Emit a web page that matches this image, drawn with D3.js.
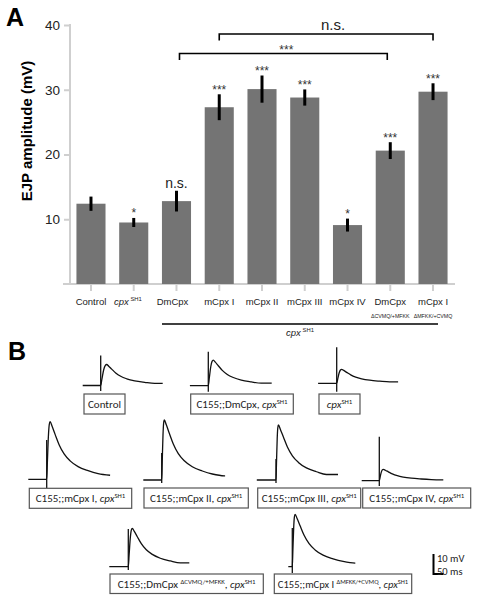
<!DOCTYPE html>
<html><head><meta charset="utf-8">
<script src="https://cdn.jsdelivr.net/npm/d3@7"></script>
<style>body{margin:0;background:#fff} svg{display:block}</style>
</head><body><svg id="c" width="477" height="600"></svg>
<script>
// ---------- Panel A data ----------
const categories = ["Control","cpxSH1","DmCpx","mCpx I","mCpx II","mCpx III","mCpx IV","DmCpx dCVMQ","mCpx I dMFKK"];
const means  = [12.4, 9.5, 12.8, 27.3, 30.1, 28.8, 9.1, 20.6, 29.7];
const errors = [1.1, 0.7, 1.6, 2.0, 2.1, 1.25, 1.0, 1.3, 1.3];
const signif = ["", "*", "n.s.", "***", "***", "***", "*", "***", "***"];
const yTicks = [10, 20, 30, 40];
const bracketFrom  = [2, 3];
const bracketTo    = [7, 8];
const bracketLabel = ["***", "n.s."];
const xLabelLines = [
  [[{t:"Control"}]],
  [[{t:"cpx",it:1},{t:" SH1",sup:1}]],
  [[{t:"DmCpx"}]],
  [[{t:"mCpx I"}]],
  [[{t:"mCpx II"}]],
  [[{t:"mCpx III"}]],
  [[{t:"mCpx IV"}]],
  [[{t:"DmCpx"}],[{t:"\u0394CVMQ/+MFKK",small:1}]],
  [[{t:"mCpx I"}],[{t:"\u0394MFKK/+CVMQ",small:1}]]
];

// ---------- Panel B data ----------
const traceLabels = [
  [{t:"Control"}],
  [{t:"C155;;DmCpx, "},{t:"cpx",it:1},{t:"SH1",sup:1}],
  [{t:"cpx",it:1},{t:"SH1",sup:1}],
  [{t:"C155;;mCpx I, "},{t:"cpx",it:1},{t:"SH1",sup:1}],
  [{t:"C155;;mCpx II, "},{t:"cpx",it:1},{t:"SH1",sup:1}],
  [{t:"C155;;mCpx III, "},{t:"cpx",it:1},{t:"SH1",sup:1}],
  [{t:"C155;;mCpx IV, "},{t:"cpx",it:1},{t:"SH1",sup:1}],
  [{t:"C155;;DmCpx "},{t:"\u0394CVMQ/+MFKK",sup:1},{t:", "},{t:"cpx",it:1},{t:"SH1",sup:1}],
  [{t:"C155;;mCpx I "},{t:"\u0394MFKK/+CVMQ",sup:1},{t:", "},{t:"cpx",it:1},{t:"SH1",sup:1}]
];
const traceAmp     = [10.5, 12.8, 7.0, 28.8, 30.0, 27.5, 5.7, 19.2, 26.2];   // mV
const artifactUp   = [15, 17, 18, 19.6, 13.5, 10.5, 22, 18.8, 19.4];         // mV
const artifactDown = [2.8, 3.0, 4.2, 4.5, 1.5, 1.5, 2.7, 1.7, 3.2];          // mV
const timeToPeak   = [30, 25, 25, 17, 13, 12, 20, 20, 14];                   // ms
const preMs        = [90, 92, 93, 92, 92, 96, 88, 95, 20];
const postMs       = [310, 317, 307, 317, 317, 310, 320, 305, 315];
const riseShape  = [[0,0],[0.2,0.3],[0.5,0.75],[0.75,0.95],[1,1]];
const decayShape = [[0,1],[10,0.92],[25,0.78],[45,0.6],[70,0.44],[100,0.32],[140,0.22],[190,0.15],[240,0.1],[300,0.07]];
const scaleBarMV = 10, scaleBarMs = 50;

// ---------- layout ----------
const svg = d3.select("#c");
const AF = "'Liberation Sans', Arial, sans-serif";
const BF = "Carlito, Lato, 'Open Sans', sans-serif";

const x = d3.scaleBand().domain(categories).range([69.6, 454.4]).paddingInner(0.32).paddingOuter(0.16);
const y = d3.scaleLinear().domain([0, 40]).range([284, 25]);
const cx = i => x(categories[i]) + x.bandwidth()/2;

svg.append("text").attr("x", 6).attr("y", 26).attr("font-family", AF).attr("font-weight", "bold")
  .attr("font-size", 25).text("A");
svg.append("text").attr("x", 8).attr("y", 360).attr("font-family", AF).attr("font-weight", "bold")
  .attr("font-size", 25).text("B");

// axes
const yAxis = svg.append("g").attr("transform", "translate(70,0)")
  .call(d3.axisLeft(y).tickValues(yTicks).tickSize(6).tickFormat(d3.format("d")));
yAxis.select(".domain").remove();
yAxis.selectAll(".tick line").attr("stroke", "#cfcfcf").attr("stroke-width", 2);
yAxis.selectAll(".tick text").attr("font-family", AF).attr("font-size", 13.5).attr("fill", "#222").attr("dx", -1);
svg.append("line").attr("x1", 70).attr("x2", 70).attr("y1", y(40)-1).attr("y2", y(0))
  .attr("stroke", "#cfcfcf").attr("stroke-width", 2);

const xAxis = svg.append("g").attr("transform", `translate(0,${y(0)})`)
  .call(d3.axisBottom(x).tickSize(7).tickFormat(""));
xAxis.select(".domain").remove();
xAxis.selectAll(".tick line").attr("stroke", "#cfcfcf").attr("stroke-width", 2);
svg.append("line").attr("x1", 63).attr("x2", 455).attr("y1", y(0)).attr("y2", y(0))
  .attr("stroke", "#cfcfcf").attr("stroke-width", 2);

svg.append("text").attr("transform", `translate(32,${131}) rotate(-90)`).attr("text-anchor", "middle")
  .attr("font-family", AF).attr("font-weight", "bold").attr("font-size", 15).text("EJP amplitude (mV)");

// bars
svg.selectAll("rect.bar").data(means).enter().append("rect").attr("class", "bar")
  .attr("x", (d,i) => x(categories[i])).attr("width", x.bandwidth())
  .attr("y", d => y(d)).attr("height", d => y(0) - y(d)).attr("fill", "#747474");
svg.selectAll("line.err").data(means).enter().append("line").attr("class", "err")
  .attr("x1", (d,i) => cx(i)).attr("x2", (d,i) => cx(i))
  .attr("y1", (d,i) => y(d + errors[i])).attr("y2", (d,i) => y(d - errors[i]))
  .attr("stroke", "#000").attr("stroke-width", 3);
svg.selectAll("text.sig").data(signif).enter().append("text").attr("class", "sig")
  .attr("x", (d,i) => cx(i)).attr("y", (d,i) => y(means[i] + errors[i]) - (d === "n.s." ? 3 : 0.5))
  .attr("text-anchor", "middle").attr("font-family", AF)
  .attr("font-size", d => d === "n.s." ? 14 : 12).attr("fill", d => d === "n.s." ? "#222" : "#333").text(d => d);

// brackets
const bY = [53.5, 34];
bracketFrom.forEach((f, k) => {
  const x1 = cx(f) + (k === 0 ? 3 : 0), x2 = cx(bracketTo[k]) - (k === 0 ? 3 : 0);
  svg.append("path").attr("d", `M${x1},${bY[k]+6.5}V${bY[k]}H${x2}V${bY[k]+6.5}`)
    .attr("fill", "none").attr("stroke", "#000").attr("stroke-width", 1.6);
  svg.append("text").attr("x", (x1+x2)/2 + (k === 0 ? 3 : 7)).attr("y", k === 0 ? bY[k] : bY[k] - 4.5)
    .attr("text-anchor", "middle").attr("font-family", AF)
    .attr("font-size", k === 0 ? 12 : 15).attr("fill", k === 0 ? "#333" : "#222").text(bracketLabel[k]);
});

// x labels
function rich(sel, segs, base) {
  let shifted = 0;
  segs.forEach(s => {
    const ts = sel.append("tspan").text(s.t);
    if (s.it) ts.attr("font-style", "italic");
    let dy = 0;
    if (s.sup) { ts.attr("font-size", base*0.62); dy = -base*0.38 - shifted; shifted = -base*0.38; }
    else { dy = -shifted; shifted = 0; }
    if (dy) ts.attr("dy", dy);
  });
}
xLabelLines.forEach((lines, i) => {
  lines.forEach((segs, li) => {
    const small = segs[0].small;
    const fs = small ? 5.3 : 9.5;
    const t = svg.append("text").attr("y", li === 0 ? 305 : 317.5)
      .attr("font-family", AF).attr("font-size", fs).attr("fill", "#222");
    if (i === 1) t.attr("x", 114).attr("text-anchor", "start");
    else t.attr("x", cx(i) - (i === 2 ? 4 : 0)).attr("text-anchor", "middle");
    rich(t, segs, fs);
  });
});
svg.append("line").attr("x1", 162).attr("x2", 438).attr("y1", 324).attr("y2", 324)
  .attr("stroke", "#000").attr("stroke-width", 1.5);
{
  const t = svg.append("text").attr("x", 300).attr("y", 335.5).attr("text-anchor", "middle")
    .attr("font-family", AF).attr("font-size", 9.5).attr("fill", "#222");
  rich(t, [{t:"cpx",it:1},{t:" SH1",sup:1}], 9.5);
}

// ---------- Panel B ----------
const tx = d3.scaleLinear().domain([0, scaleBarMs]).range([0, 10]);
const ty = d3.scaleLinear().domain([0, scaleBarMV]).range([0, -20]);
const traceOrigin = [[100.7,385.5],[208.3,385.7],[336.7,383.3],[46.7,479.3],[161.7,480],[276,480],[379.3,480.7],[128.3,566.7],[292.3,566.7]];
const boxes = [[84,394,41,20],[190.7,394,102.6,20],[319,394,41,20],[29.3,488.3,102.4,20],[144,488,104.3,20],
               [257.7,488,103,20],[362.7,488,108,20],[110,574,153.3,19.5],[274.3,574,137.4,19.5]];
const line = d3.line().x(d => tx(d[0])).y(d => ty(d[1])).curve(d3.curveMonotoneX);

traceAmp.forEach((amp, i) => {
  const g = svg.append("g").attr("transform", `translate(${traceOrigin[i][0]},${traceOrigin[i][1]})`);
  const ttp = timeToPeak[i];
  const pts = [[-preMs[i], 0], [0, 0]];
  riseShape.slice(1).forEach(r => pts.push([r[0]*ttp, r[1]*amp]));
  decayShape.slice(1).forEach(dd => { if (ttp + dd[0] <= postMs[i]) pts.push([ttp + dd[0], dd[1]*amp]); });
  const last = pts[pts.length-1];
  if (last[0] < postMs[i]) pts.push([postMs[i], last[1]]);
  g.append("path").attr("d", line(pts)).attr("fill", "none").attr("stroke", "#111").attr("stroke-width", 1.3);
  g.append("line").attr("x1", tx(0)).attr("x2", tx(0)).attr("y1", ty(-artifactDown[i])).attr("y2", ty(artifactUp[i]))
    .attr("stroke", "#111").attr("stroke-width", 1.3);

  const b = boxes[i];
  svg.append("rect").attr("x", b[0]).attr("y", b[1]).attr("width", b[2]).attr("height", b[3])
    .attr("fill", "#fff").attr("stroke", "#555").attr("stroke-width", 1.2);
  let fs = 11;
  const t = svg.append("text").attr("x", b[0] + b[2]/2).attr("y", b[1] + b[3]/2 + 4)
    .attr("text-anchor", "middle").attr("font-family", BF).attr("font-size", fs).attr("fill", "#222");
  rich(t, traceLabels[i], fs);
  const w = t.node().getComputedTextLength();
  if (w > b[2] - 7) {
    fs = fs * (b[2] - 7) / w;
    t.remove();
    const t2 = svg.append("text").attr("x", b[0] + b[2]/2).attr("y", b[1] + b[3]/2 + 4)
      .attr("text-anchor", "middle").attr("font-family", BF).attr("font-size", fs).attr("fill", "#222");
    rich(t2, traceLabels[i], fs);
  }
});

// scale bar
const sb = svg.append("g").attr("transform", "translate(433.5,574)");
sb.append("path").attr("d", `M${tx(0)},${ty(scaleBarMV)}V${ty(0)}H${tx(scaleBarMs)}`)
  .attr("fill", "none").attr("stroke", "#000").attr("stroke-width", 2);
sb.append("text").attr("x", 3.5).attr("y", -12).attr("font-family", BF).attr("font-size", 10.5).attr("fill", "#222").text(scaleBarMV + " mV");
sb.append("text").attr("x", 3.5).attr("y", 1).attr("font-family", BF).attr("font-size", 10.5).attr("fill", "#222").text(scaleBarMs + " ms");
</script></body></html>
